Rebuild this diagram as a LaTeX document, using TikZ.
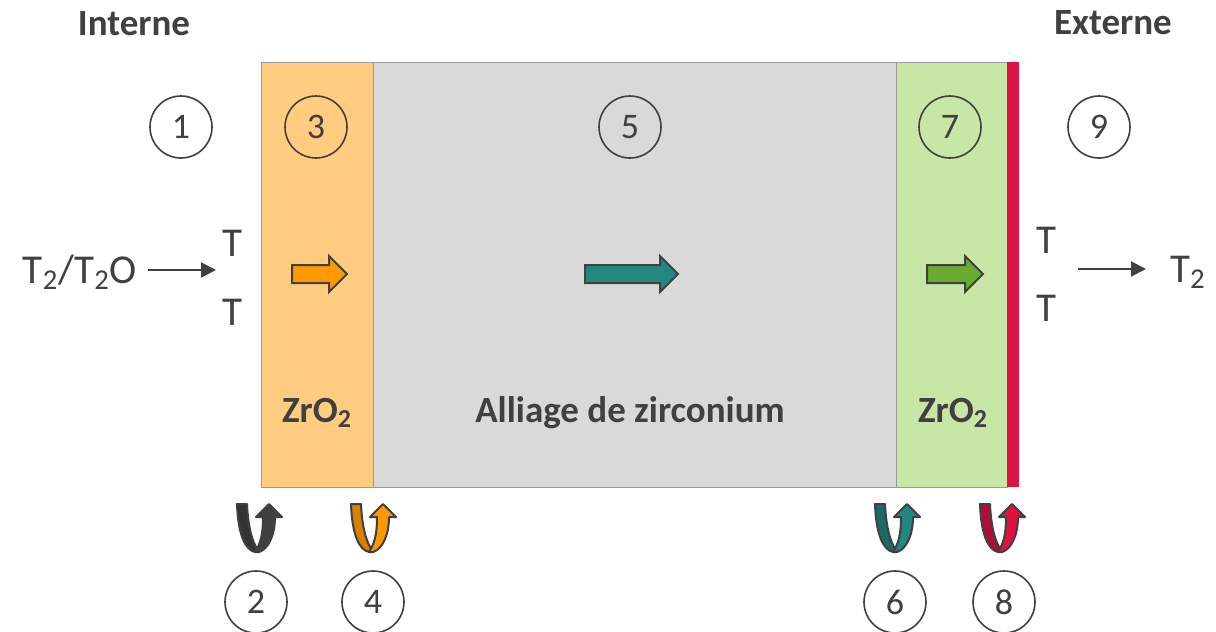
\documentclass[tikz,border=0pt]{standalone}
\usepackage{fontspec}
\setmainfont{Carlito}
\usetikzlibrary{arrows.meta}
\definecolor{txt}{HTML}{404040}
\definecolor{oxin}{HTML}{FFCC80}
\definecolor{alloy}{HTML}{D9D9D9}
\definecolor{oxout}{HTML}{C8E6A6}
\definecolor{coat}{HTML}{DC1443}
\definecolor{orA}{HTML}{FF9900}\definecolor{orB}{HTML}{D98200}
\definecolor{teA}{HTML}{22877F}\definecolor{teB}{HTML}{196B65}
\definecolor{grA}{HTML}{6AAA2E}
\definecolor{reA}{HTML}{E0103F}\definecolor{reB}{HTML}{B00E36}
\definecolor{dkA}{HTML}{404040}\definecolor{dkB}{HTML}{333333}
\begin{document}
\begin{tikzpicture}[x=0.5pt,y=-0.5pt,text=txt,font=\fontsize{18}{20}\selectfont,
  num/.style={circle,draw=txt,line width=0.8pt,minimum size=31pt,inner sep=0pt},
  lbl/.style={font=\fontsize{20.5}{22}\selectfont},
  ttl/.style={font=\fontsize{18.5}{20}\selectfont\bfseries},
  flow/.style={-{Triangle[length=7.5pt,width=7.5pt]},line width=1pt,draw=txt}]
\useasboundingbox[fill=white](0,0)rectangle(1216,632);
% layers
\draw[fill=oxin,draw=gray!80,line width=0.4pt](261,62)rectangle(373,487);
\draw[fill=alloy,draw=gray!80,line width=0.4pt](373,62)rectangle(896,487);
\draw[fill=oxout,draw=gray!80,line width=0.4pt](896,62)rectangle(1007,487);
\fill[coat](1007,62)rectangle(1019,487);
% titles
\node[ttl](int)at(134,24){Interne};
\node[ttl](ext)at(1113,23){Externe};
\node[ttl](zr1)at(317,413){ZrO\textsubscript{2}};
\node[ttl](zr)at(630,413){Alliage de zirconium};
\node[ttl](zr2)at(953,413){ZrO\textsubscript{2}};
% steps
\foreach \n/\x/\y in {1/181/127,3/316/127,5/630/127,7/950/127,9/1099/127,2/256/602,4/373/602,6/895/602,8/1004/602}
  \node[num](s\n)at(\x,\y){\n};
% block arrows
\foreach \xa/\xb/\xc/\col in {292/329/347/orA,585/660/678/teA,927/965/983/grA}
  \draw[fill=\col,draw=txt,line width=1pt,line join=miter](\xa,265)--(\xb,265)--(\xb,256)--(\xc,274)--(\xb,292)--(\xb,283)--(\xa,283)--cycle;
% U-turns
\foreach \cx/\lt/\dk in {257/dkA/dkB,371/orA/orB,895/teA/teB,1000/reA/reB}{
  \begin{scope}[xshift=\cx*0.5pt,yshift=-504*0.5pt]
  \draw[fill=\dk,draw=txt,line width=1pt,line join=round](-20,0)--(-10,0)..controls(-9,22)and(-5,38)..(1,46)--(-2,48)..controls(-12,46)and(-19,30)..(-20,0)--cycle;
  \draw[fill=\lt,draw=txt,line width=1pt,line join=round](-2,48)..controls(5,38)and(6,25)..(6,13)--(-1,13)--(12,0)--(25,13)--(18,13)..controls(18,30)and(12,45)..(2,48)--cycle;
  \end{scope}}
% gas
\node[lbl](src)at(80,272){T\textsubscript{2}/T\textsubscript{2}O};
\node[lbl](ti1)at(232,243){T};
\node[lbl](ti2)at(232,312){T};
\coordinate(cin0)at(148,270);
\coordinate(cin)at(216,270);
\draw[flow](cin0)--(cin);
\node[lbl](to1)at(1046,240){T};
\node[lbl](to2)at(1046,308){T};
\node[lbl](dst)at(1188,272){T\textsubscript{2}};
\coordinate(cout)at(1078,269);
\coordinate(cout1)at(1146,269);
\draw[flow](cout)--(cout1);
\end{tikzpicture}
\end{document}
